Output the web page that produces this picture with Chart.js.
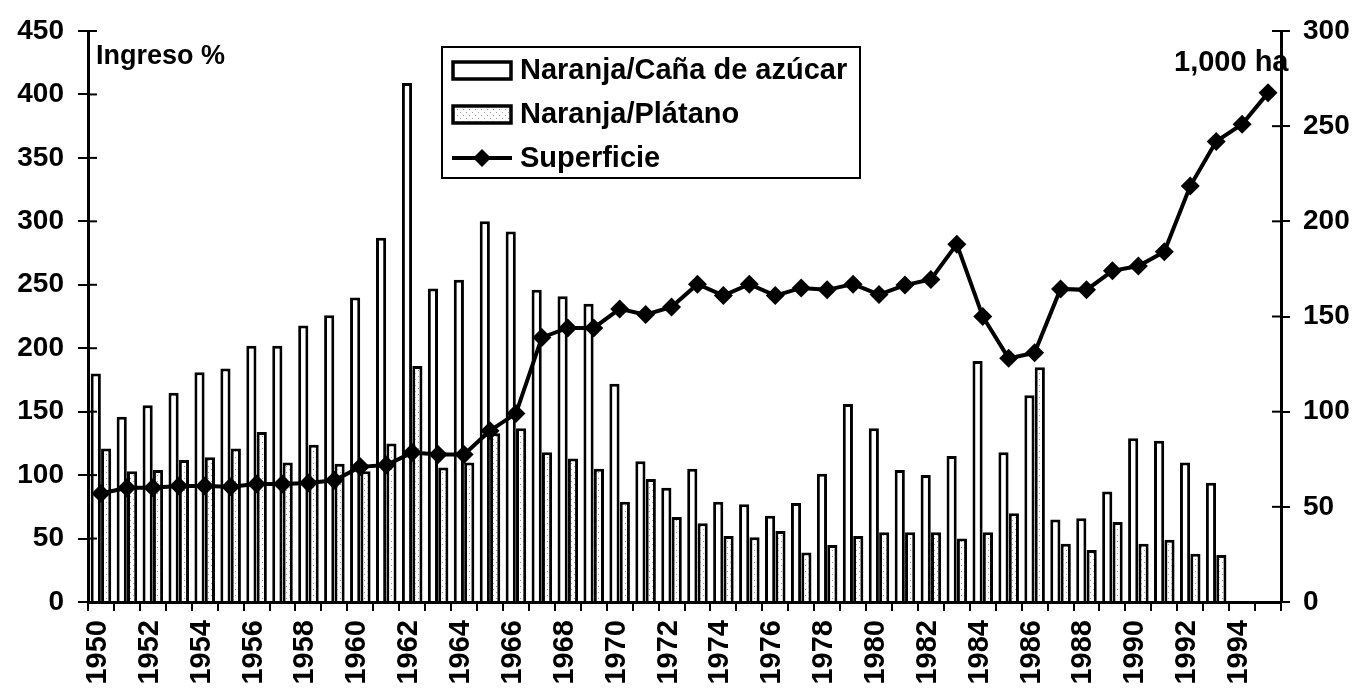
<!DOCTYPE html>
<html>
<head>
<meta charset="utf-8">
<script src="https://cdn.jsdelivr.net/npm/chart.js@4.4.1/dist/chart.umd.min.js"></script>
<style>
  html, body { margin: 0; padding: 0; background: #fff; }
  #wrap { width: 1368px; height: 694px; }
</style>
</head>
<body>
<div id="wrap"><canvas id="grafico" width="1368" height="694"></canvas></div>
<script>
// Años (categorías)
const anios = [1950, 1951, 1952, 1953, 1954, 1955, 1956, 1957, 1958, 1959,
  1960, 1961, 1962, 1963, 1964, 1965, 1966, 1967, 1968, 1969,
  1970, 1971, 1972, 1973, 1974, 1975, 1976, 1977, 1978, 1979,
  1980, 1981, 1982, 1983, 1984, 1985, 1986, 1987, 1988, 1989,
  1990, 1991, 1992, 1993, 1994, 1995];

// Ingreso % Naranja/Caña de azúcar
const naranjaCana = [180, 146, 155, 165, 181, 184, 202, 202, 218, 226,
  240, 287, 409, 247, 254, 300, 292, 246, 241, 235,
  172, 111, 90, 105, 79, 77, 68, 78, 101, 156,
  137, 104, 100, 115, 190, 118, 163, 65, 66, 87,
  129, 127, 110, 94, null, null];

// Ingreso % Naranja/Plátano
const naranjaPlatano = [121, 103, 104, 112, 114, 121, 134, 110, 124, 109,
  103, 125, 186, 106, 110, 133, 137, 118, 113, 105,
  79, 97, 67, 62, 52, 51, 56, 39, 45, 52,
  55, 55, 55, 50, 55, 70, 185, 46, 41, 63,
  46, 49, 38, 37, null, null];

// Superficie (1,000 ha)
const superficie = [57, 60, 60, 61, 61, 60.5, 62, 62, 62.5, 64,
  71, 72, 78.5, 77.5, 77.5, 90, 99, 139, 144, 144,
  154, 151, 155, 167, 161, 167, 161, 165, 164, 167,
  161.5, 166.5, 169.5, 188, 150, 128, 131, 164.5, 164, 174,
  176.5, 184, 218.5, 242, 251, 267.5];

const ticksIzq = [0, 50, 100, 150, 200, 250, 300, 350, 400, 450];
const ticksDer = [0, 50, 100, 150, 200, 250, 300];

const FUENTE = '"Liberation Sans", Arial, Helvetica, sans-serif';
Chart.defaults.font.family = FUENTE;
Chart.defaults.font.weight = 'bold';
Chart.defaults.color = '#000';

const canvas = document.getElementById('grafico');
const ctx = canvas.getContext('2d');

// textura punteada para las barras de plátano
function patronPuntos() {
    const c = document.createElement('canvas');
    c.width = 6; c.height = 6;
    const g = c.getContext('2d');
    g.fillStyle = '#fff';
    g.fillRect(0, 0, 6, 6);
    g.fillStyle = '#999';
    g.fillRect(1, 1, 1, 1);
    g.fillRect(4, 4, 1, 1);
    return ctx.createPattern(c, 'repeat');
}
const puntos = patronPuntos();

// marcas de eje que cruzan la línea (hacia dentro)
const marcasInternas = {
    id: 'marcasInternas',
    afterDraw(chart) {
        const c = chart.ctx;
        c.save();
        c.strokeStyle = '#000';
        c.lineWidth = 2;
        ['y', 'y1'].forEach(id => {
            const s = chart.scales[id];
            const x = id === 'y' ? chart.chartArea.left : chart.chartArea.right;
            const dir = id === 'y' ? 1 : -1;
            s.ticks.forEach((t, i) => {
                const py = s.getPixelForTick(i);
                c.beginPath();
                c.moveTo(x, py);
                c.lineTo(x + dir * 9, py);
                c.stroke();
            });
        });
        c.restore();
    }
};

// leyenda y rótulos
const leyenda = {
    id: 'leyenda',
    afterDraw(chart) {
        const c = chart.ctx;
        c.save();
        c.fillStyle = '#000';
        c.textBaseline = 'middle';
        c.font = 'bold 27px ' + FUENTE;
        c.fillText('Ingreso %', 96, 57);
        c.font = 'bold 29px ' + FUENTE;
        c.fillText('1,000 ha', 1174, 63);

        // caja
        c.fillStyle = '#fff';
        c.fillRect(442, 47, 418, 131);
        c.strokeStyle = '#000';
        c.lineWidth = 2;
        c.strokeRect(442, 47, 418, 131);

        c.lineWidth = 3.5;
        c.fillStyle = '#fff';
        c.fillRect(453, 62, 58, 17);
        c.strokeRect(453, 62, 58, 17);
        c.fillStyle = puntos;
        c.fillRect(453, 106, 58, 17);
        c.strokeRect(453, 106, 58, 17);

        c.lineWidth = 4;
        c.beginPath();
        c.moveTo(452, 158);
        c.lineTo(512, 158);
        c.stroke();
        c.fillStyle = '#000';
        c.beginPath();
        c.moveTo(482, 149); c.lineTo(491, 158); c.lineTo(482, 167); c.lineTo(473, 158);
        c.closePath();
        c.fill();

        c.font = 'bold 29px ' + FUENTE;
        c.fillText('Naranja/Caña de azúcar', 520, 71);
        c.fillText('Naranja/Plátano', 520, 115);
        c.fillText('Superficie', 520, 159);
        c.restore();
    }
};

new Chart(ctx, {
    type: 'bar',
    data: {
        labels: anios,
        datasets: [
            {
                type: 'line',
                label: 'Superficie',
                data: superficie,
                yAxisID: 'y1',
                borderColor: '#000',
                borderWidth: 4,
                backgroundColor: '#000',
                pointStyle: 'rectRot',
                pointRadius: 9.5,
                pointBackgroundColor: '#000',
                pointBorderWidth: 0,
                tension: 0,
                order: 0
            },
            {
                label: 'Naranja/Caña de azúcar',
                data: naranjaCana,
                yAxisID: 'y',
                backgroundColor: '#fff',
                borderColor: '#000',
                borderWidth: 3,
                order: 1
            },
            {
                label: 'Naranja/Plátano',
                data: naranjaPlatano,
                yAxisID: 'y',
                backgroundColor: puntos,
                borderColor: '#000',
                borderWidth: 3,
                order: 1
            }
        ]
    },
    options: {
        responsive: false,
        animation: false,
        devicePixelRatio: 1,
        layout: { padding: { top: 31, left: 0, right: 0, bottom: 0 } },
        datasets: {
            bar: { categoryPercentage: 0.8, barPercentage: 0.98 }
        },
        plugins: {
            legend: { display: false },
            tooltip: { enabled: false }
        },
        scales: {
            x: {
                offset: true,
                grid: {
                    offset: true,
                    drawOnChartArea: false,
                    drawTicks: true,
                    tickLength: 9,
                    color: '#000',
                    lineWidth: 2
                },
                border: { display: true, color: '#000', width: 3 },
                ticks: {
                    autoSkip: false,
                    minRotation: 90,
                    maxRotation: 90,
                    padding: 9,
                    labelOffset: -3,
                    font: { size: 29, weight: 'bold' },
                    color: '#000',
                    callback: function (v, i) {
                        const a = anios[i];
                        return (a % 2 === 0 && a <= 1994) ? String(a) : '';
                    }
                },
                afterFit: s => { s.height = 92; }
            },
            y: {
                position: 'left',
                min: 0,
                max: 450,
                afterBuildTicks: s => { s.ticks = ticksIzq.map(v => ({ value: v })); },
                grid: {
                    drawOnChartArea: false,
                    tickLength: 10,
                    color: '#000',
                    lineWidth: 2
                },
                border: { display: true, color: '#000', width: 3 },
                ticks: { font: { size: 28, weight: 'bold' }, padding: 14, color: '#000' },
                afterFit: s => { s.width = 88; }
            },
            y1: {
                position: 'right',
                min: 0,
                max: 300,
                afterBuildTicks: s => { s.ticks = ticksDer.map(v => ({ value: v })); },
                grid: {
                    drawOnChartArea: false,
                    tickLength: 9,
                    color: '#000',
                    lineWidth: 2
                },
                border: { display: true, color: '#000', width: 3 },
                ticks: { font: { size: 28, weight: 'bold' }, padding: 13, color: '#000' },
                afterFit: s => { s.width = 87; }
            }
        }
    },
    plugins: [marcasInternas, leyenda]
});
</script>
</body>
</html>
